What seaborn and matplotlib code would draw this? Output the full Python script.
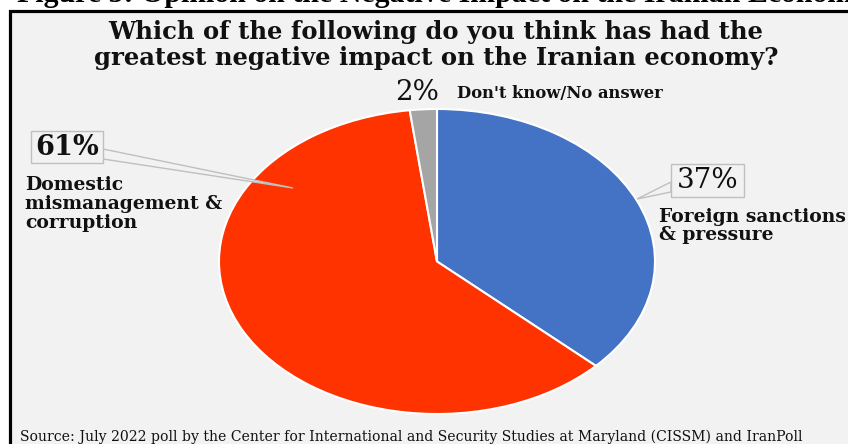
import matplotlib
matplotlib.use("Agg")
import matplotlib.pyplot as plt
import seaborn as sns
from matplotlib.patches import Rectangle, Polygon

# ---- data ----
categories = ["Foreign sanctions\n& pressure",
              "Domestic\nmismanagement &\ncorruption",
              "Don't know/No answer"]
values = [37, 61, 2]
colors = ["#4472C4", "#FF3300", "#A5A5A5"]
fig_title = "Figure 5: Opinion on the Negative Impact on the Iranian Economy"
question_lines = ["Which of the following do you think has had the",
                  "greatest negative impact on the Iranian economy?"]
source = ("Source: July 2022 poll by the Center for International and Security "
          "Studies at Maryland (CISSM) and IranPoll")

sns.set_theme(style="white")
plt.rcParams['font.family'] = ['DejaVu Serif']

W, H = 848, 444
BG = "#F2F2F2"
TXT = "#111111"
fig = plt.figure(figsize=(W / 100, H / 100), dpi=100)
fig.patch.set_facecolor("white")

# overlay axes in pixel coordinates
ov = fig.add_axes([0, 0, 1, 1], zorder=0)
ov.set_xlim(0, W)
ov.set_ylim(H, 0)
ov.axis("off")
ov.patch.set_alpha(0)

# framed panel
ov.add_patch(Rectangle((9.5, 11.5), W + 20, H + 20, facecolor=BG,
                       edgecolor="black", linewidth=2.3, zorder=0))

# cut-off figure title (the reference crop cuts it at the top edge)
ov.text(17, 2, fig_title, fontsize=21.5, fontweight="bold",
        family="Liberation Serif", ha="left", va="baseline", color="black")

# question title
for i, line in enumerate(question_lines):
    ov.text(436, 32 + 26 * i, line, fontsize=17.5, fontweight="bold",
            ha="center", va="center", color=TXT)

# pie
ax = fig.add_axes([219 / W, 1 - 414 / H, 436 / W, 305 / H], zorder=1)
ax.pie(values, colors=colors, startangle=90, counterclock=False,
       wedgeprops=dict(edgecolor="white", linewidth=1.5))
ax.set_aspect("auto")
ax.set_xlim(-1, 1)
ax.set_ylim(-1, 1)
ax.patch.set_alpha(0)

# top overlay for labels/callouts
top = fig.add_axes([0, 0, 1, 1], zorder=2)
top.set_xlim(0, W)
top.set_ylim(H, 0)
top.axis("off")
top.patch.set_alpha(0)

edge = "#BFBFBF"
# 61% callout
top.add_patch(Polygon([(103, 149), (293, 188), (103, 159)], closed=True,
                      facecolor=BG, edgecolor=edge, linewidth=1))
top.add_patch(Rectangle((31, 131), 72, 32, facecolor=BG, edgecolor=edge, linewidth=1))
top.text(67, 147, f"{values[1]}%", fontsize=19.5, fontweight="bold",
         ha="center", va="center", color=TXT)
top.text(25, 204, categories[1], fontsize=13.5, fontweight="bold",
         ha="left", va="center", linespacing=1.05, color=TXT)

# 37% callout
top.add_patch(Polygon([(671, 182), (637, 199), (671, 192)], closed=True,
                      facecolor=BG, edgecolor=edge, linewidth=1))
top.add_patch(Rectangle((671, 164), 73, 33, facecolor=BG, edgecolor=edge, linewidth=1))
top.text(707.5, 180.5, f"{values[0]}%", fontsize=20, ha="center", va="center",
         color=TXT)
top.text(659, 226, categories[0], fontsize=13.5, fontweight="bold",
         ha="left", va="center", linespacing=1.05, color=TXT)

# 2%
top.text(417, 92, f"{values[2]}%", fontsize=20, ha="center", va="center",
         color=TXT)
top.text(457, 93, categories[2], fontsize=11.8, fontweight="bold",
         ha="left", va="center", color=TXT)

# source
top.text(20, 441, source, fontsize=10.1, ha="left", va="baseline", color=TXT)

fig.savefig("out.png", dpi=100, facecolor="white")
